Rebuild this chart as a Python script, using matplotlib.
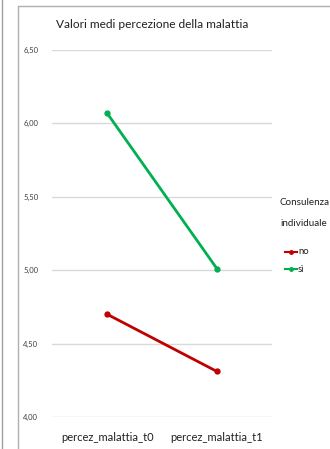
import matplotlib
matplotlib.use("Agg")
import matplotlib.pyplot as plt
from matplotlib.lines import Line2D
from matplotlib.ticker import FuncFormatter, MultipleLocator

plt.rcParams['font.family'] = ['Lato', 'DejaVu Sans']

categories = ["percez_malattia_t0", "percez_malattia_t1"]
series_names = ["no", "sì"]
values_no = [4.70, 4.31]
values_si = [6.07, 5.01]
colors = ["#C00000", "#00B050"]
legend_title = ["Consulenza", "individuale"]

W, H = 330, 449
fig = plt.figure(figsize=(W / 100, H / 100), dpi=100)
ax = fig.add_axes([0.158, 0.0713, 0.666, 0.8173])

x = list(range(len(categories)))
for vals, name, c in zip([values_no, values_si], series_names, colors):
    ax.plot(x, vals, color=c, lw=2, marker='o', markersize=3.5, label=name)

ax.set_xlim(-0.5, len(categories) - 0.5)
ax.set_ylim(4.0, 6.5)
ax.yaxis.set_major_locator(MultipleLocator(0.5))
ax.yaxis.set_major_formatter(FuncFormatter(lambda v, p: f"{v:.2f}".replace('.', ',')))
ax.set_xticks(x)
ax.set_xticklabels(categories, fontsize=8)
ax.tick_params(axis='y', labelsize=5.5, length=0, pad=10, colors='#404040')
ax.tick_params(axis='x', length=0, pad=11, colors='#202020')
ax.grid(axis='y', color='#D9D9D9', lw=1)
ax.set_axisbelow(True)
for s in ax.spines.values():
    s.set_visible(False)

def px(xp, yp):
    return xp / W, 1 - yp / H

fig.text(*px(152, 25), "Valori medi percezione della malattia", fontsize=8.6,
         ha='center', va='center', color='#202020')

# legend drawn manually
for i, line in enumerate(legend_title):
    fig.text(*px(280, 203 + 20 * i), line, fontsize=7.1, ha='left', va='center', color='#202020')
for i, (name, c) in enumerate(zip(series_names, colors)):
    yy = 252 + 17 * i
    x0, y0 = px(285, yy)
    x1, _ = px(297, yy)
    fig.add_artist(Line2D([x0, x1], [y0, y0], color=c, lw=1.5, transform=fig.transFigure))
    fig.add_artist(Line2D([(x0 + x1) / 2], [y0], color=c, marker='o', markersize=2.5,
                          transform=fig.transFigure))
    fig.text(*px(298, yy), name, fontsize=6.8, ha='left', va='center', color='#202020')

# borders
fig.add_artist(Line2D([0.006, 0.006], [0, 1], color='#A0A0A0', lw=1, transform=fig.transFigure))
fig.add_artist(Line2D([0.055, 0.055, 1.0], [0, 0.987, 0.987], color='#B0B0B0', lw=1, transform=fig.transFigure))

fig.savefig("out.png", dpi=100)
